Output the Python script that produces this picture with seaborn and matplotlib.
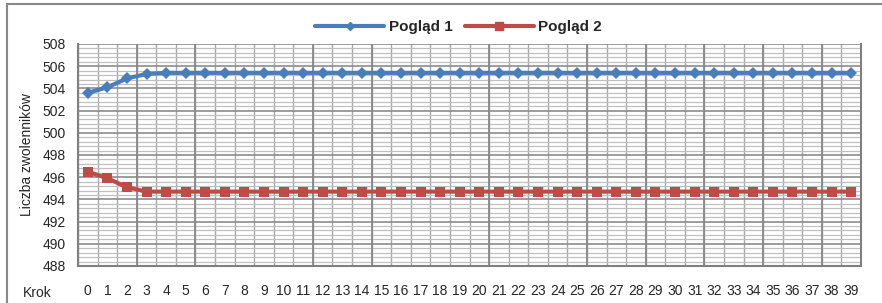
import numpy as np
import pandas as pd
import matplotlib
matplotlib.use("Agg")
import matplotlib.pyplot as plt
import seaborn as sns
from matplotlib.lines import Line2D

# data
steps = list(range(40))
poglad_1 = [503.6, 504.1, 504.9, 505.3] + [505.4] * 36
poglad_2 = [496.5, 495.9, 495.1, 494.7] + [494.7] * 36
series_names = ["Pogląd 1", "Pogląd 2"]
y_ticks = list(range(488, 509, 2))

df = pd.DataFrame({
    "Krok": steps * 2,
    "Liczba zwolenników": poglad_1 + poglad_2,
    "seria": [series_names[0]] * 40 + [series_names[1]] * 40,
})

sns.set_style("white")
plt.rcParams["font.family"] = ["Liberation Sans", "DejaVu Sans"]

fig = plt.figure(figsize=(8.82, 3.03), dpi=100)
ax = fig.add_axes([78 / 882, 1 - 266 / 303, 783 / 882, 222 / 303])

colors = {"Pogląd 1": "#4a7ebb", "Pogląd 2": "#be4b48"}
sns.lineplot(data=df, x="Krok", y="Liczba zwolenników", hue="seria",
             palette=colors, style="seria", markers={"Pogląd 1": "D", "Pogląd 2": "s"},
             dashes=False, linewidth=3, markersize=6.5, markeredgewidth=0,
             legend=False, ax=ax, zorder=3)

ax.set_xlim(-0.5, 39.5)
ax.set_ylim(488, 508)
ax.set_yticks(y_ticks)
ax.set_yticks(np.arange(488, 508.01, 0.4), minor=True)
ax.set_xticks(steps)
ax.set_xticklabels([str(s) for s in steps], fontsize=10)
ax.set_xticks(np.arange(-0.5, 40, 1), minor=True)

# grid
ax.grid(True, which="major", axis="y", color="#8c8c8c", lw=1.2)
ax.grid(True, which="minor", axis="y", color="#c0c0c0", lw=0.9)
ax.grid(True, which="minor", axis="x", color="#a8a8a8", lw=1.0)
for xb in [2.5, 5.5, 11.5, 14.5, 20.5, 25.5, 28.5, 31.5, 34.5, 37.5]:
    ax.axvline(xb, color="#888888", lw=1.3, zorder=1)

ax.tick_params(axis="x", which="major", length=0, pad=13)
ax.tick_params(axis="x", which="minor", length=6, direction="out", color="#888888", width=1)
ax.tick_params(axis="y", which="major", length=5, direction="out", color="#888888", labelsize=10, pad=4)
ax.tick_params(axis="y", which="minor", length=0)

for side in ["left", "bottom", "right"]:
    ax.spines[side].set_color("#808080")
    ax.spines[side].set_linewidth(1.5)
ax.spines["top"].set_visible(False)

ax.set_ylabel("Liczba zwolenników", fontsize=10, labelpad=6)
ax.set_xlabel("Krok", fontsize=10)
ax.xaxis.set_label_coords(-0.052, -0.09)

handles = [Line2D([], [], color=colors["Pogląd 1"], lw=3, marker="D", markersize=4),
           Line2D([], [], color=colors["Pogląd 2"], lw=3, marker="s", markersize=6)]
fig.legend(handles, series_names, loc="center", bbox_to_anchor=(0.52, 0.91), ncol=2,
           frameon=False, prop={"weight": "bold", "size": 11}, handlelength=4.5,
           columnspacing=0.8, handletextpad=0.3)

# outer chart border
fig.add_artist(Line2D([7 / 882, 7 / 882], [0, 1 - 4 / 303], transform=fig.transFigure, color="#888888", lw=1.5))
fig.add_artist(Line2D([7 / 882, 1], [1 - 4 / 303, 1 - 4 / 303], transform=fig.transFigure, color="#888888", lw=1.5))

fig.savefig("out.png", dpi=100)
